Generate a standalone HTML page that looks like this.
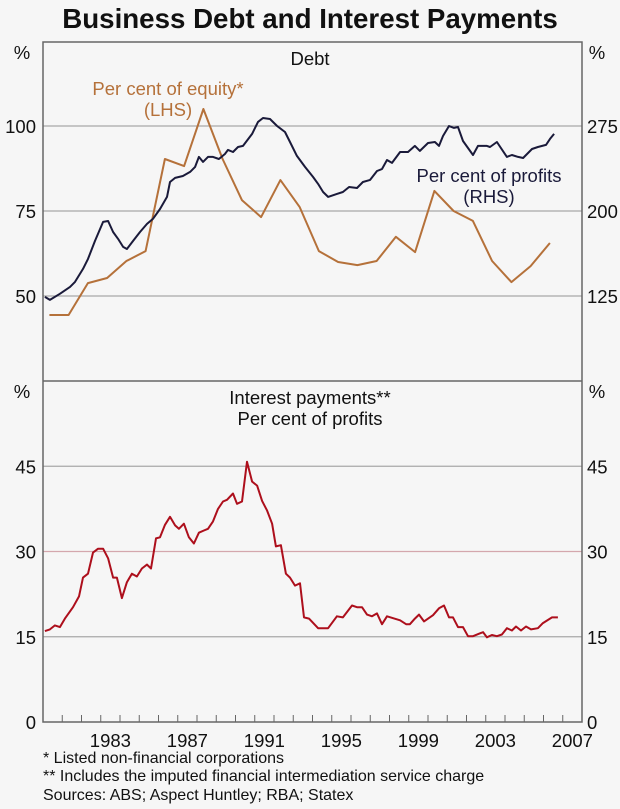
<!DOCTYPE html>
<html><head><meta charset="utf-8">
<style>
html,body{margin:0;padding:0;background:#f6f6f6;}
svg{display:block;font-family:"Liberation Sans",Arial,sans-serif;}
</style></head>
<body>
<svg id="chart" width="620" height="809" viewBox="0 0 620 809" xmlns="http://www.w3.org/2000/svg">
<rect x="0" y="0" width="620" height="809" fill="#f6f6f6"/>
<text x="310" y="28" text-anchor="middle" font-size="27.7" font-weight="bold" fill="#111">Business Debt and Interest Payments</text>
<g id="grid"></g>
<g id="series"></g>
<rect x="43" y="42" width="539" height="680" fill="none" stroke="#666" stroke-width="1.5"/>
<line x1="43" y1="381" x2="582" y2="381" stroke="#666" stroke-width="1.5"/>
<g id="ticks"></g>
<g id="labels" font-size="18.5" fill="#111"></g>
<text x="310" y="65" text-anchor="middle" font-size="18.5" fill="#111">Debt</text>
<text x="168" y="95" text-anchor="middle" font-size="18.5" fill="#b5713a">Per cent of equity*</text>
<text x="168" y="116" text-anchor="middle" font-size="18.5" fill="#b5713a">(LHS)</text>
<text x="489" y="182" text-anchor="middle" font-size="18.5" fill="#1a1a3a">Per cent of profits</text>
<text x="489" y="203" text-anchor="middle" font-size="18.5" fill="#1a1a3a">(RHS)</text>
<text x="310" y="404" text-anchor="middle" font-size="18.5" fill="#111">Interest payments**</text>
<text x="310" y="425" text-anchor="middle" font-size="18.5" fill="#111">Per cent of profits</text>
<text x="43" y="763" font-size="16" fill="#111">*   Listed non-financial corporations</text>
<text x="43" y="781" font-size="16" fill="#111">** Includes the imputed financial intermediation service charge</text>
<text x="43" y="800" font-size="16" fill="#111">Sources: ABS; Aspect Huntley; RBA; Statex</text>
</svg>
<script>
// Debt to equity (LHS), annual
const equityYears = [1980.33,1981.33,1982.33,1983.33,1984.33,1985.33,1986.33,1987.33,1988.33,1989.33,1990.33,1991.33,1992.33,1993.33,1994.33,1995.33,1996.33,1997.33,1998.33,1999.33,2000.33,2001.33,2002.33,2003.33,2004.33,2005.33,2006.33];
const equityValues = [44.4,44.4,53.8,55.3,60.3,63.2,90.3,88.2,105,90.3,78.2,73.2,84.1,76.2,63.2,60,59.1,60.3,67.4,62.9,80.9,75,72.1,60.3,54.1,58.8,65.6];
// Debt to profits (RHS)
const profitYears = [1980.10,1980.36,1980.88,1981.40,1981.66,1982.08,1982.34,1982.70,1983.12,1983.38,1983.64,1983.90,1984.16,1984.36,1984.68,1985.04,1985.40,1985.71,1986.08,1986.44,1986.60,1986.86,1987.27,1987.64,1987.90,1988.10,1988.31,1988.57,1988.83,1989.14,1989.45,1989.61,1989.87,1990.13,1990.39,1990.86,1991.17,1991.43,1991.79,1992.16,1992.57,1992.83,1993.19,1993.61,1994.03,1994.29,1994.55,1994.81,1995.27,1995.58,1995.90,1996.31,1996.62,1996.99,1997.35,1997.61,1997.87,1998.13,1998.55,1998.96,1999.32,1999.58,2000.00,2000.36,2000.57,2000.78,2001.09,2001.35,2001.56,2001.82,2002.34,2002.60,2003.06,2003.22,2003.58,2004.10,2004.36,2004.68,2004.94,2005.40,2005.71,2006.13,2006.34,2006.55];
const profitValues = [124.2,121.6,126.9,133.0,137.4,148.9,157.7,173.6,190.4,191.2,181.5,175.4,168.3,166.5,173.6,181.5,188.6,193.0,201.8,212.4,225.6,229.2,230.9,234.5,238.9,247.7,243.3,247.7,247.7,245.9,250.3,253.9,252.1,256.5,257.4,268.0,278.6,282.1,281.2,275.0,269.7,260.9,248.6,238.9,230.0,223.9,216.8,212.4,215.1,216.8,221.2,220.3,225.6,227.4,235.3,237.1,245.0,242.4,252.1,252.1,257.4,253.0,260.0,260.9,257.4,266.2,275.0,273.3,274.1,261.8,249.4,257.4,257.4,256.5,260.9,247.7,249.4,247.7,246.8,254.7,256.5,258.3,263.6,268.0];
// Interest payments, per cent of profits
const interestYears = [1980.10,1980.36,1980.62,1980.88,1981.14,1981.56,1981.87,1982.08,1982.34,1982.60,1982.86,1983.12,1983.38,1983.64,1983.84,1984.10,1984.36,1984.62,1984.88,1985.14,1985.40,1985.61,1985.87,1986.08,1986.34,1986.60,1986.86,1987.06,1987.32,1987.58,1987.84,1988.10,1988.36,1988.57,1988.83,1989.09,1989.35,1989.56,1989.87,1990.08,1990.34,1990.60,1990.86,1991.12,1991.38,1991.64,1991.90,1992.10,1992.36,1992.62,1992.83,1993.09,1993.35,1993.56,1993.82,1994.29,1994.81,1995.27,1995.58,1996.05,1996.31,1996.57,1996.83,1997.09,1997.35,1997.61,1997.87,1998.55,1998.86,1999.06,1999.32,1999.53,1999.79,2000.26,2000.57,2000.83,2001.09,2001.30,2001.56,2001.82,2002.08,2002.34,2002.70,2002.86,2003.06,2003.32,2003.58,2003.84,2004.10,2004.36,2004.57,2004.83,2005.09,2005.35,2005.71,2005.97,2006.44,2006.75];
const interestValues = [16.0,16.3,17.0,16.7,18.2,20.2,22.1,25.4,26.1,29.8,30.5,30.5,28.8,25.4,25.4,21.8,24.6,26.1,25.6,27.0,27.7,27.0,32.3,32.5,34.7,36.1,34.6,34.0,34.9,32.5,31.4,33.3,33.7,34.0,35.3,37.5,38.8,39.1,40.2,38.4,38.8,45.8,42.3,41.6,38.9,37.2,34.9,30.9,31.1,26.1,25.4,24.0,24.4,18.4,18.2,16.5,16.5,18.6,18.4,20.5,20.2,20.2,18.9,18.6,19.1,17.2,18.6,17.9,17.2,17.2,18.2,18.9,17.7,18.8,20.0,20.5,18.4,18.4,16.7,16.7,15.1,15.1,15.6,15.8,14.9,15.3,15.1,15.4,16.5,16.1,16.8,16.1,16.8,16.3,16.5,17.4,18.4,18.4];
// ticks
const tickYears = [1983,1987,1991,1995,1999,2003,2007];
const leftTopTicks = [50,75,100];
const rightTopTicks = [125,200,275];
const bottomTicks = [0,15,30,45];

const NS = "http://www.w3.org/2000/svg";
const X0 = 43, X1 = 582;
const xS = y => X0 + (y - 1980) / 28 * (X1 - X0);
const yL = v => 381 - (v - 25) / 100 * 340;     // 25..125
const yR = v => 381 - (v - 50) / 300 * 340;     // 50..350
const yB = v => 722 - v / 60 * 341;             // 0..60
function mk(tag, attrs, parent) {
  const e = document.createElementNS(NS, tag);
  for (const k in attrs) e.setAttribute(k, attrs[k]);
  parent.appendChild(e);
  return e;
}
const grid = document.getElementById('grid');
const series = document.getElementById('series');
const ticks = document.getElementById('ticks');
const labels = document.getElementById('labels');

leftTopTicks.forEach((v, i) => {
  const y = yL(v);
  const g = mk('line', {x1: X0, x2: X1, y1: y, y2: y, stroke: '#a8a8a8', 'stroke-width': 1.2}, grid);
  
  
  const t = mk('text', {x: 36, y: y + 7, 'text-anchor': 'end'}, labels);
  t.textContent = v;
  
  
  const r = mk('text', {x: 587, y: y + 7}, labels);
  r.textContent = rightTopTicks[i];
  
  
});
bottomTicks.forEach(v => {
  const y = yB(v);
  if (v > 0) {
    const g = mk('line', {x1: X0, x2: X1, y1: y, y2: y, stroke: v === 30 ? '#d4a7ad' : '#a8a8a8', 'stroke-width': 1.2}, grid);
    
    
  }
  const t = mk('text', {x: 36, y: y + 7, 'text-anchor': 'end'}, labels);
  t.textContent = v;
  
  
  const r = mk('text', {x: 587, y: y + 7}, labels);
  r.textContent = v;
  
  
});
[['%', 22, 59, 'middle'], ['%', 597, 59, 'middle'], ['%', 22, 398, 'middle'], ['%', 597, 398, 'middle']].forEach(a => {
  const t = mk('text', {x: a[1], y: a[2], 'text-anchor': a[3]}, labels);
  t.textContent = a[0];
  
  
});
for (let yr = 1981; yr <= 2007; yr++) {
  const x = xS(yr);
  const l = mk('line', {x1: x, x2: x, y1: 722, y2: 715, stroke: '#666', 'stroke-width': 1}, ticks);
  
  
}
tickYears.forEach(yr => {
  const t = mk('text', {x: xS(yr + 0.5), y: 747, 'text-anchor': 'middle'}, labels);
  t.textContent = yr;
  
  
});
function line(xs, vs, yf, color, name) {
  const d = xs.map((x, i) => (i ? 'L' : 'M') + xS(x).toFixed(1) + ' ' + yf(vs[i]).toFixed(1)).join(' ');
  const p = mk('path', {d: d, fill: 'none', stroke: color, 'stroke-width': 2, 'stroke-linejoin': 'round'}, series);
  
  
}
line(equityYears, equityValues, yL, '#b5713a', 'equity-line');
line(profitYears, profitValues, yR, '#1a1a3a', 'profits-line');
line(interestYears, interestValues, yB, '#ad0f1c', 'interest-line');
</script>
</body></html>
